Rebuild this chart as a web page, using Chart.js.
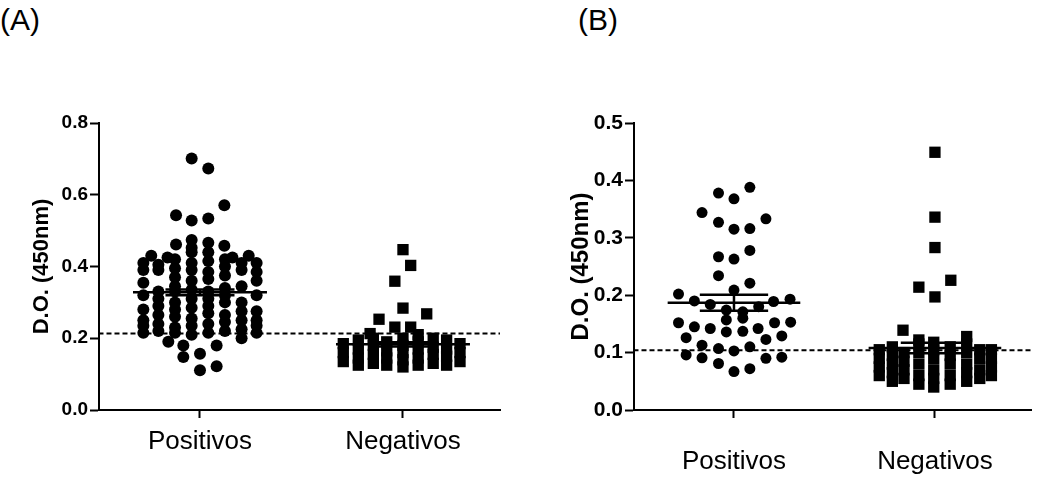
<!DOCTYPE html>
<html>
<head>
<meta charset="utf-8">
<script src="https://cdn.jsdelivr.net/npm/chart.js"></script>
<style>
  body { margin: 0; background: #fff; width: 1039px; height: 478px; position: relative; overflow: hidden; font-family: Arial, "Liberation Sans", sans-serif; }
  .panel { position: absolute; top: 0; }
  .tag { position: absolute; top: 3px; font-size: 30px; color: #000; }
</style>
</head>
<body>
<div class="tag" style="left:0">(A)</div>
<div class="tag" style="left:578px">(B)</div>
<canvas id="chartA" class="panel" width="519" height="478" style="left:0"></canvas>
<canvas id="chartB" class="panel" width="519" height="478" style="left:520px"></canvas>
<script>
// categorias e ticks
const categories = ['Positivos', 'Negativos'];
const ticksA = [0, 0.2, 0.4, 0.6, 0.8];
const ticksB = [0, 0.1, 0.2, 0.3, 0.4, 0.5];
const cutoffA = 0.213;
const cutoffB = 0.104;

// medias e EPM
const meansA = [0.328, 0.183];
const semA = [0.008, 0.006];
const meansB = [0.187, 0.108];
const semB = [0.014, 0.009];

// (A) Positivos - pontos soltos (desvio horizontal, D.O.)
const posA_x = [-0.041, 0.041, 0.12, -0.118, -0.041, 0.041, -0.118, -0.041, -0.041, 0.041, 0.12, -0.24, -0.16, 0.16, 0.24, -0.156, -0.082, -0.082, 0, 0.082, 0, 0.082];
const posA_y = [0.701, 0.673, 0.571, 0.543, 0.528, 0.534, 0.461, 0.474, 0.452, 0.466, 0.458, 0.43, 0.425, 0.425, 0.43, 0.19, 0.18, 0.148, 0.157, 0.18, 0.111, 0.122];
// (A) Positivos - colunas do bloco
const posA_colX = [-0.279, -0.205, -0.123, -0.041, 0.041, 0.123, 0.205, 0.279];
const posA_colY = [
  [0.215, 0.235, 0.25, 0.28, 0.32, 0.355, 0.39, 0.41],
  [0.22, 0.24, 0.265, 0.29, 0.31, 0.33, 0.39, 0.405],
  [0.215, 0.23, 0.26, 0.28, 0.30, 0.33, 0.345, 0.37, 0.395, 0.42],
  [0.21, 0.235, 0.255, 0.285, 0.31, 0.335, 0.36, 0.39, 0.41, 0.44],
  [0.215, 0.24, 0.27, 0.29, 0.31, 0.33, 0.365, 0.385, 0.415, 0.44],
  [0.22, 0.245, 0.265, 0.30, 0.32, 0.34, 0.375, 0.40, 0.42],
  [0.20, 0.225, 0.25, 0.275, 0.30, 0.345, 0.39, 0.41],
  [0.215, 0.235, 0.25, 0.275, 0.32, 0.36, 0.385, 0.41]
];

// (A) Negativos
const negA_x = [0, 0.038, -0.04, 0, 0.117, -0.118, -0.04, 0.038, -0.162];
const negA_y = [0.447, 0.403, 0.359, 0.284, 0.268, 0.253, 0.231, 0.231, 0.213];
const negA_colX = [-0.294, -0.22, -0.146, -0.08, 0, 0.075, 0.149, 0.215, 0.281];
const negA_colY = [
  [0.135, 0.16, 0.185],
  [0.125, 0.145, 0.17, 0.195],
  [0.13, 0.155, 0.18, 0.2],
  [0.125, 0.145, 0.165, 0.19],
  [0.12, 0.14, 0.16, 0.18, 0.2],
  [0.125, 0.145, 0.17, 0.19, 0.21],
  [0.13, 0.155, 0.175, 0.2],
  [0.125, 0.15, 0.17, 0.195],
  [0.135, 0.16, 0.185]
];

// (B) Positivos
const posB_x = [0.079, -0.077, 0, -0.159, -0.077, 0.159, 0, 0.079, -0.077, 0, 0.079, -0.077, 0.079, 0, -0.276, -0.197, -0.118, 0.197, 0.279, 0.123, -0.038, 0.044, -0.038, 0.044, -0.276, -0.197, -0.118, -0.038, 0.044, 0.12, 0.202, 0.282, -0.238, -0.159, -0.077, 0, 0.079, 0.159, 0.238, -0.238, -0.159, -0.077, 0, 0.079, 0.159, 0.238];
const posB_y = [0.388, 0.378, 0.368, 0.344, 0.327, 0.333, 0.315, 0.316, 0.267, 0.263, 0.278, 0.234, 0.221, 0.209, 0.202, 0.19, 0.184, 0.189, 0.193, 0.18, 0.174, 0.171, 0.157, 0.16, 0.152, 0.145, 0.142, 0.136, 0.137, 0.142, 0.152, 0.153, 0.126, 0.113, 0.107, 0.103, 0.11, 0.123, 0.129, 0.096, 0.091, 0.081, 0.067, 0.072, 0.09, 0.092];

// (B) Negativos
const negB_x = [0, 0, 0, 0.079, -0.08, 0, -0.159, 0.158, -0.08];
const negB_y = [0.449, 0.336, 0.283, 0.226, 0.214, 0.197, 0.139, 0.128, 0.122];
const negB_colX = [-0.277, -0.212, -0.154, -0.08, -0.006, 0.076, 0.158, 0.223, 0.281];
const negB_colY = [
  [0.06, 0.075, 0.09, 0.105],
  [0.05, 0.065, 0.08, 0.095, 0.11],
  [0.055, 0.07, 0.085, 0.1],
  [0.045, 0.06, 0.08, 0.1, 0.115],
  [0.04, 0.055, 0.07, 0.09, 0.105, 0.118],
  [0.045, 0.06, 0.08, 0.095, 0.11],
  [0.05, 0.065, 0.08, 0.1, 0.115],
  [0.055, 0.07, 0.09, 0.105],
  [0.06, 0.075, 0.09, 0.105]
];

function pts(center, xs, ys) {
  return ys.map((y, i) => ({ x: center + xs[i], y: y }));
}
function colPts(center, colX, colY) {
  const out = [];
  colY.forEach((col, i) => col.forEach(y => out.push({ x: center + colX[i], y: y })));
  return out;
}
function seg(data, w, dash) {
  return { data: data, showLine: true, borderColor: '#000', borderWidth: w, borderDash: dash || [], pointRadius: 0, fill: false };
}
function meanSem(cx, m, s) {
  return [
    seg([{ x: cx - 0.33, y: m }, { x: cx + 0.33, y: m }], 2.5),
    seg([{ x: cx - 0.17, y: m + s }, { x: cx + 0.17, y: m + s }], 2.5),
    seg([{ x: cx - 0.17, y: m - s }, { x: cx + 0.17, y: m - s }], 2.5),
    seg([{ x: cx, y: m - s }, { x: cx, y: m + s }], 2.5)
  ];
}

function makeChart(id, cfg) {
  const datasets = [].concat(
    meanSem(1, cfg.means[0], cfg.sems[0]),
    meanSem(2, cfg.means[1], cfg.sems[1]),
    [{ data: cfg.pos, pointStyle: 'circle', pointRadius: cfg.dotR, backgroundColor: '#000', borderWidth: 0 },
     { data: cfg.neg, pointStyle: 'rect', pointRadius: cfg.sqR, backgroundColor: '#000', borderWidth: 0 },
     seg([{ x: 0.5, y: cfg.cutoff }, { x: 2.5, y: cfg.cutoff }], 2, [5, 3])]
  );
  return new Chart(document.getElementById(id), {
    type: 'scatter',
    data: { datasets: datasets },
    options: {
      responsive: false,
      animation: false,
      layout: { padding: { left: 0, right: cfg.padRight, top: 123, bottom: 0 } },
      plugins: { legend: { display: false }, tooltip: { enabled: false } },
      scales: {
        x: {
          type: 'linear', min: 0.5025, max: 2.478,
          afterBuildTicks: s => { s.ticks = categories.map((c, i) => ({ value: i + 1 })); },
          afterFit: s => { s.height = 68; },
          ticks: { callback: v => categories[v - 1], color: '#000', font: { family: 'Arial', size: 26 }, padding: cfg.labPad, maxRotation: 0, autoSkip: false },
          grid: { drawOnChartArea: false, drawTicks: true, tickLength: 8, tickWidth: 2, tickColor: '#000' },
          border: { color: '#000', width: 2 }
        },
        y: {
          min: 0, max: cfg.ticks[cfg.ticks.length - 1],
          afterBuildTicks: s => { s.ticks = cfg.ticks.map(v => ({ value: v })); },
          afterFit: s => { s.width = cfg.yWidth; },
          ticks: { callback: v => v.toFixed(1), color: '#000', font: { family: 'Arial', size: cfg.tickSize, weight: 'bold' }, padding: 2 },
          grid: { drawOnChartArea: false, drawTicks: true, tickLength: 9, tickWidth: 2, tickColor: '#000' },
          border: { color: '#000', width: 2 },
          title: { display: true, text: 'D.O. (450nm)', color: '#000', font: { family: 'Arial', size: cfg.titleSize, weight: 'bold' }, padding: { top: cfg.titlePad, bottom: 0 } }
        }
      }
    }
  });
}

makeChart('chartA', {
  ticks: ticksA, cutoff: cutoffA, means: meansA, sems: semA,
  pos: pts(1, posA_x, posA_y).concat(colPts(1, posA_colX, posA_colY)),
  neg: pts(2, negA_x, negA_y).concat(colPts(2, negA_colX, negA_colY)),
  dotR: 6, sqR: 8, padRight: 19, yWidth: 99, labPad: 8,
  tickSize: 19, titleSize: 22, titlePad: 29
});

makeChart('chartB', {
  ticks: ticksB, cutoff: cutoffB, means: meansB, sems: semB,
  pos: pts(1, posB_x, posB_y),
  neg: pts(2, negB_x, negB_y).concat(colPts(2, negB_colX, negB_colY)),
  dotR: 5.5, sqR: 8, padRight: 4, yWidth: 114, labPad: 28,
  tickSize: 21, titleSize: 24, titlePad: 47
});
</script>
</body>
</html>
